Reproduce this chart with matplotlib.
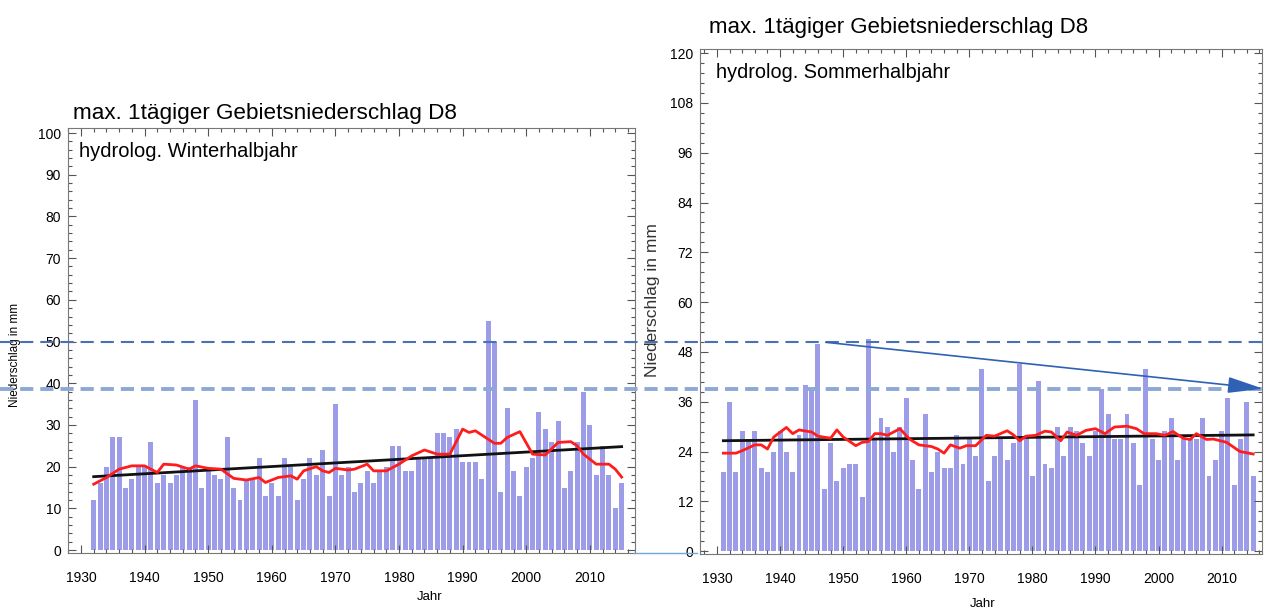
import numpy as np
import matplotlib
matplotlib.use('Agg')
import matplotlib.pyplot as plt
from matplotlib.ticker import MultipleLocator
from matplotlib.lines import Line2D
from matplotlib.patches import FancyArrowPatch

plt.rcParams['font.family'] = ['Liberation Sans', 'DejaVu Sans']
plt.rcParams['lines.scale_dashes'] = False

# ---------------- data ----------------
winter_years = list(range(1932, 2016))
winter_values = [12, 16, 20, 27, 27, 15, 17, 20, 20, 26, 16, 18, 16, 18, 20, 20, 36, 15, 19, 18,
                 17, 27, 15, 12, 17, 17, 22, 13, 16, 13, 22, 20, 12, 17, 22, 18, 24, 13, 35,
                 18, 20, 14, 16, 19, 16, 19, 20, 25, 25, 19, 19, 22, 22, 22, 28, 28, 27, 29,
                 21, 21, 21, 17, 55, 50, 14, 34, 19, 13, 20, 22, 33, 29, 26, 31, 15, 19, 26,
                 38, 30, 18, 25, 18, 10, 16]
winter_smooth_years = [1932, 1934, 1936, 1938, 1940, 1942, 1943, 1945, 1947, 1948, 1950, 1952,
                       1954, 1956, 1958, 1959, 1961, 1963, 1964, 1965, 1967, 1968, 1969, 1970,
                       1971, 1972, 1973, 1975, 1976, 1978, 1980, 1982, 1984, 1986, 1988, 1990,
                       1991, 1992, 1994, 1995, 1996, 1997, 1999, 2001, 2003, 2005, 2007, 2008,
                       2009, 2011, 2013, 2014, 2015]
winter_smooth = [15.8, 17.4, 19.4, 20.2, 20.2, 18.6, 20.6, 20.4, 19.4, 20.2, 19.6, 19.4,
                 17.2, 16.8, 17.4, 16.2, 17.4, 17.8, 17.0, 19.0, 20.0, 19.0, 18.6, 19.6,
                 19.4, 19.2, 19.4, 20.6, 19.0, 19.0, 20.6, 22.6, 24.0, 23.0, 23.0, 29.0,
                 28.2, 28.6, 26.6, 25.6, 25.6, 27.0, 28.4, 23.0, 22.8, 25.8, 26.0, 25.0,
                 23.0, 20.6, 20.6, 19.4, 17.5]
winter_trend_years = [1932, 2015]
winter_trend = [17.6, 24.8]

summer_years = list(range(1931, 2016))
summer_values = [19, 36, 19, 29, 27, 29, 20, 19, 24, 29, 24, 19, 28, 40, 39, 50, 15, 26, 17, 20,
                 21, 21, 13, 51, 27, 32, 30, 24, 30, 37, 22, 15, 33, 19, 24, 20, 20, 28, 21, 27,
                 23, 44, 17, 23, 27, 22, 26, 45, 28, 18, 41, 21, 20, 30, 23, 30, 29, 26, 23, 29,
                 39, 33, 27, 27, 33, 26, 16, 44, 27, 22, 29, 32, 22, 27, 27, 27, 32, 18, 22, 29,
                 37, 16, 27, 36, 18]
summer_smooth_years = [1931, 1933, 1934, 1936, 1937, 1938, 1939, 1941, 1942, 1943, 1945, 1946,
                       1948, 1949, 1950, 1952, 1953, 1954, 1955, 1956, 1957, 1958, 1959, 1960.5,
                       1962, 1964, 1965, 1966, 1967, 1968.5, 1969.5, 1971, 1972.7, 1974, 1976,
                       1977, 1978, 1979, 1980.5, 1982, 1983, 1984.5, 1985.5, 1987, 1988.5, 1990,
                       1991.5, 1993, 1995, 1996.5, 1997.7, 1999.6, 2001, 2002.3, 2003.9, 2005,
                       2006, 2007.6, 2008.7, 2010.8, 2012.9, 2015]
summer_smooth = [23.6, 23.6, 24.2, 25.6, 25.6, 24.6, 27.5, 29.8, 28.3, 29.2, 28.7, 27.7,
                 27.2, 29.2, 27.5, 25.4, 26.2, 26.4, 28.3, 28.3, 27.9, 28.7, 29.5, 27.0,
                 25.6, 25.2, 24.6, 23.6, 25.6, 24.8, 25.4, 25.4, 27.9, 27.7, 29.0,
                 28.0, 26.6, 27.7, 27.9, 28.9, 28.7, 26.6, 28.7, 27.9, 29.1, 29.5,
                 28.3, 29.9, 30.1, 29.5, 28.3, 28.3, 27.9, 28.8, 27.2, 26.9,
                 28.3, 26.9, 27.0, 26.2, 24.0, 23.4]
summer_trend_years = [1931, 2015]
summer_trend = [26.6, 28.0]

title_text = "max. 1tägiger Gebietsniederschlag D8"
winter_label = "hydrolog. Winterhalbjahr"
summer_label = "hydrolog. Sommerhalbjahr"
ylabel_text = "Niederschlag in mm"
xlabel_text = "Jahr"
winter_yticks = list(range(0, 101, 10))
summer_yticks = list(range(0, 121, 12))
xticks = list(range(1930, 2011, 10))

# ---------------- layout ----------------
W, H = 1267, 613
BAR = '#9c9ce8'
RED = '#ff1c1c'

fig = plt.figure(figsize=(W / 100, H / 100), dpi=100)
fig.patch.set_facecolor('white')


def rect(l, t, r, b):
    return [l / W, 1 - b / H, (r - l) / W, (b - t) / H]


def fx(x):
    return x / W


def fy(y):
    return 1 - y / H


def style_axes(ax, yminor):
    ax.xaxis.set_minor_locator(MultipleLocator(2))
    ax.yaxis.set_minor_locator(MultipleLocator(yminor))
    ax.tick_params(which='both', direction='in', top=True, right=True,
                   color='#555555', width=0.8, labelsize=10)
    ax.tick_params(which='major', length=6)
    ax.tick_params(which='minor', length=3)
    ax.tick_params(axis='x', pad=13)
    ax.tick_params(axis='y', pad=5)
    for s in ax.spines.values():
        s.set_color('#777777')
        s.set_linewidth(0.8)


axL = fig.add_axes(rect(68, 128, 635, 553))
axL.bar(winter_years, winter_values, width=0.78, color=BAR, zorder=1)
axL.plot(winter_smooth_years, winter_smooth, color=RED, lw=2, zorder=3)
axL.plot(winter_trend_years, winter_trend, color='#111111', lw=2, zorder=2)
axL.set_xlim(1927.96, 2017.1)
axL.set_ylim(-0.7, 101.2)
axL.set_xticks(xticks)
axL.set_yticks(winter_yticks)
style_axes(axL, 2)
axL.text(0.02, 0.968, winter_label, transform=axL.transAxes, fontsize=14.5,
         va='top', ha='left')

axR = fig.add_axes(rect(700, 49, 1262, 554))
axR.bar(summer_years, summer_values, width=0.78, color=BAR, zorder=1)
axR.plot(summer_smooth_years, summer_smooth, color=RED, lw=2, zorder=3)
axR.plot(summer_trend_years, summer_trend, color='#111111', lw=2, zorder=2)
axR.set_xlim(1927.3, 2016.4)
axR.set_ylim(-0.7, 121.0)
axR.set_xticks(xticks)
axR.set_yticks(summer_yticks)
style_axes(axR, 2.4)
axR.text(0.028, 0.972, summer_label, transform=axR.transAxes, fontsize=14.3,
         va='top', ha='left')

# titles and labels
fig.text(fx(73), fy(114), title_text, fontsize=16.2, ha='left', va='center')
fig.text(fx(709), fy(28), title_text, fontsize=16.0, ha='left', va='center')
fig.text(fx(430), fy(597), xlabel_text, fontsize=9.5, ha='center', va='center')
fig.text(fx(983), fy(604), xlabel_text, fontsize=9.5, ha='center', va='center')
fig.text(fx(15), fy(355), ylabel_text, fontsize=8.5, rotation=90, ha='center', va='center')
fig.text(fx(653), fy(300), ylabel_text, fontsize=12.5, rotation=90, ha='center', va='center',
         color='#333333')

# dashed reference lines across the whole figure
fig.add_artist(Line2D([0, 1], [fy(342), fy(342)], transform=fig.transFigure,
                      color='#4a70b5', lw=1.5, linestyle=(0, (9.5, 5)), zorder=5))
fig.add_artist(Line2D([0, 1], [fy(389), fy(389)], transform=fig.transFigure,
                      color='#8ea8d6', lw=2.8, linestyle=(0, (9.5, 5)), zorder=5))
# small connector line at the bottom between the panels
fig.add_artist(Line2D([fx(634), fx(697)], [fy(552.5), fy(552.5)], transform=fig.transFigure,
                      color='#6fa8dc', lw=1.0, zorder=5))

# arrow
arrow = FancyArrowPatch((fx(823), fy(342)), (fx(1266), fy(389)), transform=fig.transFigure,
                        arrowstyle='-|>,head_length=22,head_width=5', mutation_scale=1,
                        color='#2f62b4', lw=1.2, zorder=6)
fig.add_artist(arrow)

fig.savefig('out.png', dpi=100, facecolor='white')
